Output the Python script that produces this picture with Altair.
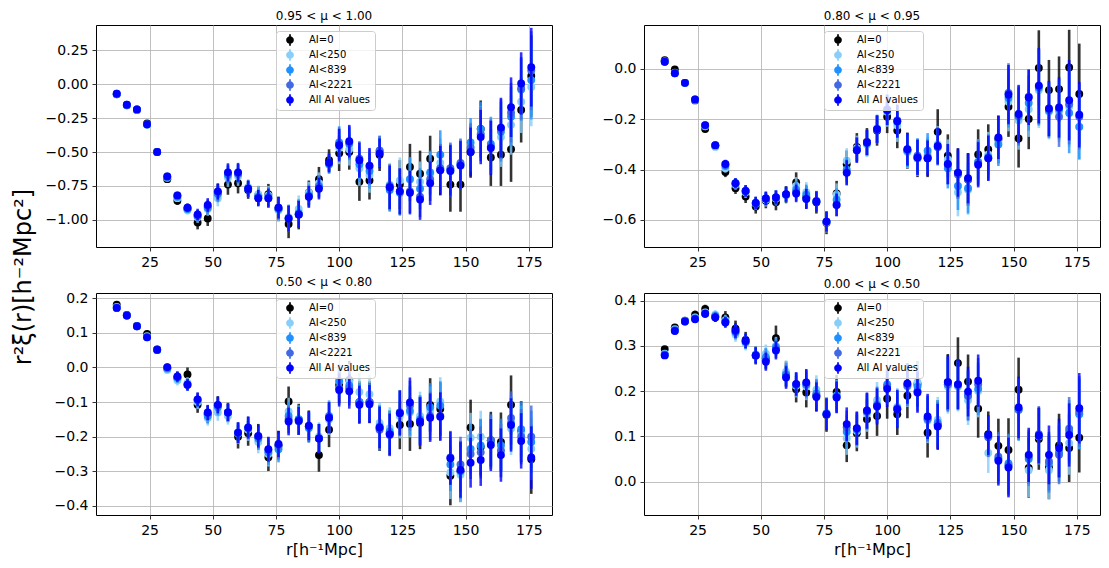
import altair as alt
import pandas as pd

r = [12, 16, 20, 24, 28, 32, 36, 40, 44, 48, 52, 56, 60, 64, 68, 72, 76, 80, 84, 88, 92,
     96, 100, 104, 108, 112, 116, 120, 124, 128, 132, 136, 140, 144, 148, 152, 156, 160, 164, 168, 172, 176]

names = ["AI=0", "AI<250", "AI<839", "AI<2221", "All AI values"]
colors = ["#000000", "#87cefa", "#1e90ff", "#4169e1", "#0000ff"]

# ---------------- panel 1: 0.95 < mu < 1.00 ----------------
p1_ai0 = [-0.075, -0.155, -0.19, -0.29, -0.50, -0.70, -0.86, -0.92, -1.02, -0.99, -0.80, -0.74, -0.73, -0.78, -0.82, -0.81, -0.92, -1.03, -0.96, -0.80, -0.70,
          -0.56, -0.51, -0.50, -0.72, -0.71, -0.52, -0.76, -0.74, -0.61, -0.66, -0.55, -0.63, -0.74, -0.74, -0.50, -0.33, -0.54, -0.52, -0.48, -0.19, 0.06]
p1_ai250 = [-0.075, -0.155, -0.19, -0.30, -0.50, -0.69, -0.84, -0.93, -0.98, -0.92, -0.84, -0.69, -0.68, -0.76, -0.81, -0.82, -0.93, -0.98, -0.92, -0.80, -0.73,
            -0.59, -0.47, -0.48, -0.62, -0.67, -0.50, -0.74, -0.71, -0.70, -0.72, -0.66, -0.58, -0.64, -0.60, -0.46, -0.36, -0.46, -0.39, -0.30, -0.13, -0.02]
p1_ai839 = [-0.072, -0.153, -0.187, -0.297, -0.50, -0.685, -0.83, -0.92, -0.97, -0.91, -0.81, -0.67, -0.66, -0.77, -0.83, -0.83, -0.92, -0.99, -0.95, -0.82, -0.75,
            -0.59, -0.43, -0.44, -0.59, -0.64, -0.49, -0.78, -0.80, -0.70, -0.77, -0.65, -0.52, -0.63, -0.59, -0.43, -0.33, -0.44, -0.35, -0.24, -0.04, 0.03]
p1_ai2221 = [-0.071, -0.152, -0.186, -0.296, -0.50, -0.68, -0.82, -0.91, -0.97, -0.90, -0.80, -0.66, -0.66, -0.77, -0.84, -0.84, -0.91, -0.99, -0.96, -0.83, -0.76,
             -0.58, -0.44, -0.43, -0.55, -0.61, -0.49, -0.75, -0.79, -0.79, -0.83, -0.70, -0.62, -0.62, -0.58, -0.47, -0.37, -0.46, -0.33, -0.21, -0.03, 0.10]
p1_all = [-0.071, -0.152, -0.186, -0.296, -0.50, -0.68, -0.82, -0.91, -0.96, -0.89, -0.79, -0.65, -0.65, -0.77, -0.84, -0.84, -0.91, -0.99, -0.96, -0.83, -0.77,
          -0.58, -0.45, -0.42, -0.56, -0.60, -0.51, -0.76, -0.79, -0.80, -0.85, -0.73, -0.635, -0.64, -0.60, -0.50, -0.39, -0.47, -0.32, -0.17, 0.005, 0.125]
p1_err = [0.01, 0.01, 0.012, 0.015, 0.015, 0.02, 0.025, 0.03, 0.042, 0.05, 0.06, 0.067, 0.07, 0.06, 0.06, 0.07, 0.08, 0.096, 0.10, 0.08, 0.08,
          0.07, 0.12, 0.12, 0.13, 0.13, 0.11, 0.16, 0.17, 0.16, 0.15, 0.16, 0.18, 0.19, 0.18, 0.18, 0.20, 0.20, 0.22, 0.22, 0.23, 0.29]
p1_err0 = [0.012, 0.012, 0.014, 0.017, 0.018, 0.024, 0.03, 0.034, 0.05, 0.055, 0.065, 0.075, 0.075, 0.065, 0.07, 0.075, 0.09, 0.105, 0.11, 0.09, 0.09,
           0.08, 0.13, 0.13, 0.14, 0.14, 0.12, 0.17, 0.18, 0.17, 0.17, 0.17, 0.19, 0.20, 0.20, 0.19, 0.21, 0.21, 0.23, 0.24, 0.24, 0.30]

# ---------------- panel 2: 0.80 < mu < 0.95 ----------------
p2_ai0 = [0.035, -0.002, -0.055, -0.125, -0.239, -0.305, -0.41, -0.474, -0.507, -0.547, -0.524, -0.53, -0.50, -0.451, -0.51, -0.53, -0.612, -0.495, -0.379, -0.31, -0.29,
          -0.245, -0.19, -0.245, -0.325, -0.355, -0.355, -0.25, -0.345, -0.415, -0.44, -0.34, -0.32, -0.28, -0.15, -0.276, -0.199, 0.004, -0.084, -0.08, 0.006, -0.099]
p2_ai250 = [0.03, -0.015, -0.056, -0.123, -0.228, -0.31, -0.395, -0.46, -0.49, -0.535, -0.52, -0.515, -0.50, -0.465, -0.49, -0.525, -0.61, -0.50, -0.365, -0.315, -0.30,
            -0.235, -0.17, -0.225, -0.33, -0.355, -0.34, -0.30, -0.36, -0.49, -0.48, -0.37, -0.34, -0.29, -0.13, -0.205, -0.16, -0.085, -0.17, -0.17, -0.15, -0.23]
p2_ai839 = [0.03, -0.016, -0.055, -0.122, -0.225, -0.305, -0.385, -0.455, -0.485, -0.535, -0.515, -0.51, -0.50, -0.48, -0.50, -0.525, -0.607, -0.52, -0.40, -0.32, -0.295,
            -0.24, -0.165, -0.21, -0.325, -0.345, -0.325, -0.31, -0.395, -0.465, -0.474, -0.37, -0.35, -0.30, -0.115, -0.19, -0.135, -0.075, -0.165, -0.16, -0.175, -0.23]
p2_ai2221 = [0.029, -0.017, -0.055, -0.121, -0.223, -0.303, -0.38, -0.455, -0.485, -0.533, -0.515, -0.511, -0.498, -0.49, -0.515, -0.527, -0.607, -0.54, -0.41, -0.323, -0.292,
             -0.24, -0.16, -0.205, -0.32, -0.35, -0.35, -0.31, -0.38, -0.42, -0.44, -0.375, -0.355, -0.275, -0.095, -0.185, -0.11, -0.07, -0.16, -0.19, -0.14, -0.19]
p2_all = [0.029, -0.017, -0.055, -0.121, -0.223, -0.303, -0.378, -0.454, -0.485, -0.533, -0.515, -0.511, -0.498, -0.495, -0.517, -0.527, -0.607, -0.541, -0.413, -0.323, -0.292,
          -0.239, -0.163, -0.208, -0.319, -0.352, -0.355, -0.306, -0.378, -0.412, -0.434, -0.381, -0.355, -0.272, -0.102, -0.179, -0.113, -0.066, -0.157, -0.153, -0.124, -0.182]
p2_err = [0.005, 0.006, 0.007, 0.008, 0.01, 0.013, 0.017, 0.02, 0.023, 0.025, 0.027, 0.028, 0.03, 0.035, 0.04, 0.04, 0.04, 0.045, 0.05, 0.05, 0.05,
          0.055, 0.06, 0.065, 0.065, 0.07, 0.07, 0.073, 0.08, 0.096, 0.10, 0.09, 0.09, 0.086, 0.118, 0.116, 0.11, 0.15, 0.11, 0.12, 0.16, 0.13]
p2_err0 = [0.006, 0.007, 0.008, 0.009, 0.012, 0.015, 0.02, 0.023, 0.026, 0.028, 0.03, 0.032, 0.034, 0.04, 0.045, 0.045, 0.045, 0.05, 0.055, 0.055, 0.055,
           0.06, 0.065, 0.07, 0.072, 0.075, 0.075, 0.09, 0.085, 0.1, 0.105, 0.1, 0.1, 0.095, 0.12, 0.116, 0.12, 0.15, 0.12, 0.13, 0.15, 0.2]

# ---------------- panel 3: 0.50 < mu < 0.80 ----------------
p3_ai0 = [0.181, 0.152, 0.12, 0.097, 0.052, -0.002, -0.03, -0.02, -0.108, -0.135, -0.11, -0.13, -0.20, -0.19, -0.20, -0.259, -0.225, -0.098, -0.15, -0.17, -0.253,
          -0.18, -0.05, -0.036, -0.10, -0.10, -0.175, -0.19, -0.166, -0.163, -0.16, -0.108, -0.12, -0.313, -0.30, -0.173, -0.23, -0.21, -0.215, -0.108, -0.185, -0.265]
p3_ai250 = [0.175, 0.15, 0.12, 0.09, 0.05, -0.007, -0.037, -0.045, -0.10, -0.146, -0.13, -0.14, -0.19, -0.18, -0.215, -0.25, -0.23, -0.127, -0.15, -0.17, -0.20,
            -0.15, -0.04, -0.04, -0.071, -0.077, -0.16, -0.175, -0.14, -0.13, -0.14, -0.125, -0.098, -0.303, -0.31, -0.203, -0.20, -0.22, -0.24, -0.176, -0.19, -0.235]
p3_ai839 = [0.173, 0.15, 0.119, 0.088, 0.05, -0.003, -0.03, -0.05, -0.095, -0.14, -0.115, -0.13, -0.19, -0.175, -0.205, -0.245, -0.236, -0.14, -0.15, -0.175, -0.205,
            -0.14, -0.039, -0.052, -0.10, -0.10, -0.17, -0.185, -0.13, -0.125, -0.15, -0.115, -0.11, -0.28, -0.30, -0.235, -0.225, -0.211, -0.225, -0.16, -0.178, -0.215]
p3_ai2221 = [0.172, 0.15, 0.119, 0.087, 0.051, 0.0, -0.027, -0.05, -0.093, -0.132, -0.11, -0.13, -0.188, -0.175, -0.2, -0.238, -0.225, -0.15, -0.155, -0.17, -0.205,
             -0.145, -0.06, -0.06, -0.105, -0.10, -0.18, -0.195, -0.13, -0.11, -0.155, -0.14, -0.14, -0.26, -0.28, -0.25, -0.245, -0.211, -0.24, -0.146, -0.2, -0.2]
p3_all = [0.172, 0.150, 0.119, 0.087, 0.051, 0.001, -0.026, -0.050, -0.092, -0.130, -0.108, -0.130, -0.188, -0.173, -0.198, -0.236, -0.221, -0.156, -0.154, -0.168, -0.205,
          -0.145, -0.065, -0.069, -0.108, -0.106, -0.173, -0.193, -0.132, -0.101, -0.156, -0.145, -0.142, -0.262, -0.296, -0.275, -0.267, -0.224, -0.253, -0.166, -0.212, -0.260]
p3_err = [0.005, 0.005, 0.006, 0.007, 0.008, 0.01, 0.015, 0.017, 0.02, 0.022, 0.024, 0.025, 0.03, 0.032, 0.033, 0.036, 0.038, 0.04, 0.04, 0.042, 0.042,
          0.045, 0.048, 0.05, 0.055, 0.055, 0.06, 0.06, 0.065, 0.072, 0.07, 0.07, 0.07, 0.077, 0.08, 0.072, 0.075, 0.075, 0.077, 0.077, 0.08, 0.09]
p3_err0 = [0.006, 0.006, 0.007, 0.008, 0.009, 0.012, 0.017, 0.02, 0.023, 0.025, 0.027, 0.028, 0.034, 0.036, 0.037, 0.04, 0.042, 0.043, 0.045, 0.046, 0.048,
           0.05, 0.053, 0.055, 0.06, 0.06, 0.066, 0.066, 0.07, 0.078, 0.076, 0.077, 0.077, 0.085, 0.088, 0.08, 0.082, 0.082, 0.085, 0.085, 0.088, 0.1]

# ---------------- panel 4: 0.00 < mu < 0.50 ----------------
p4_ai0 = [0.293, 0.341, 0.356, 0.369, 0.382, 0.365, 0.363, 0.338, 0.313, 0.279, 0.272, 0.317, 0.238, 0.204, 0.197, 0.19, 0.148, 0.198, 0.08, 0.107, 0.138,
          0.145, 0.183, 0.149, 0.19, 0.216, 0.108, 0.125, 0.22, 0.262, 0.221, 0.161, 0.105, 0.079, 0.07, 0.203, 0.03, 0.094, 0.031, 0.08, 0.074, 0.097]
p4_ai250 = [0.283, 0.337, 0.356, 0.363, 0.374, 0.369, 0.357, 0.325, 0.306, 0.281, 0.283, 0.30, 0.243, 0.212, 0.21, 0.203, 0.152, 0.19, 0.096, 0.112, 0.15,
            0.18, 0.21, 0.165, 0.21, 0.22, 0.135, 0.137, 0.21, 0.21, 0.18, 0.20, 0.063, 0.05, 0.036, 0.16, 0.025, 0.1, 0.025, 0.063, 0.085, 0.15]
p4_ai839 = [0.281, 0.335, 0.355, 0.361, 0.372, 0.366, 0.354, 0.33, 0.309, 0.28, 0.275, 0.297, 0.237, 0.214, 0.214, 0.195, 0.15, 0.19, 0.11, 0.115, 0.155,
            0.17, 0.215, 0.162, 0.215, 0.21, 0.138, 0.13, 0.215, 0.213, 0.19, 0.205, 0.1, 0.05, 0.04, 0.158, 0.05, 0.1, 0.04, 0.065, 0.11, 0.149]
p4_ai2221 = [0.28, 0.334, 0.354, 0.36, 0.371, 0.364, 0.353, 0.332, 0.31, 0.279, 0.268, 0.293, 0.233, 0.215, 0.217, 0.19, 0.149, 0.187, 0.12, 0.117, 0.155,
             0.168, 0.21, 0.16, 0.212, 0.2, 0.14, 0.125, 0.215, 0.215, 0.19, 0.215, 0.098, 0.055, 0.035, 0.16, 0.055, 0.105, 0.045, 0.059, 0.117, 0.155]
p4_all = [0.279, 0.333, 0.354, 0.359, 0.371, 0.363, 0.352, 0.334, 0.311, 0.279, 0.265, 0.290, 0.230, 0.216, 0.219, 0.187, 0.149, 0.186, 0.127, 0.118, 0.157,
          0.166, 0.205, 0.160, 0.217, 0.197, 0.144, 0.122, 0.220, 0.215, 0.199, 0.223, 0.103, 0.046, 0.031, 0.164, 0.059, 0.102, 0.059, 0.074, 0.103, 0.162]
p4_err = [0.005, 0.006, 0.007, 0.008, 0.008, 0.01, 0.012, 0.016, 0.016, 0.018, 0.02, 0.02, 0.025, 0.026, 0.03, 0.032, 0.035, 0.035, 0.037, 0.037, 0.04,
          0.04, 0.04, 0.042, 0.045, 0.045, 0.05, 0.05, 0.06, 0.055, 0.055, 0.058, 0.044, 0.055, 0.066, 0.068, 0.06, 0.062, 0.065, 0.065, 0.07, 0.078]
p4_err0 = [0.006, 0.007, 0.008, 0.009, 0.009, 0.012, 0.014, 0.018, 0.018, 0.02, 0.022, 0.028, 0.028, 0.029, 0.033, 0.035, 0.038, 0.038, 0.037, 0.04, 0.044,
           0.044, 0.044, 0.046, 0.05, 0.05, 0.055, 0.055, 0.062, 0.057, 0.06, 0.064, 0.05, 0.06, 0.07, 0.071, 0.066, 0.068, 0.07, 0.07, 0.075, 0.077]

titles = ["0.95 < \u03bc < 1.00", "0.80 < \u03bc < 0.95", "0.50 < \u03bc < 0.80", "0.00 < \u03bc < 0.50"]
x_ticks = [25, 50, 75, 100, 125, 150, 175]
y_label = "r\u00b2\u03be(r)[h\u207b\u00b2Mpc\u00b2]"

SYMBOL = "M-1,0A1,1 0 1,1 1,0A1,1 0 1,1 -1,0Z M-0.22,-1.5L0.22,-1.5L0.22,1.5L-0.22,1.5Z"


def panel(title, series, err_all, err_0, ydom, yticks, yfmt, bottom, with_ylabel=False):
    xscale = alt.Scale(domain=[3.8, 184.2], nice=False, zero=False)
    yscale = alt.Scale(domain=ydom, nice=False, zero=False)
    xaxis = alt.Axis(values=x_ticks, format="d", title="r[h\u207b\u00b9Mpc]" if bottom else None,
                     titleFontSize=16, titleFontWeight="normal", titlePadding=4)
    yaxis = alt.Axis(values=yticks, format=yfmt, title=None)
    cscale = alt.Scale(domain=names, range=colors)
    legend = alt.Legend(title=None, orient="none", legendX=180, legendY=6)
    layers = []
    for i, name in enumerate(names):
        vals = series[i]
        errs = err_0 if i == 0 else err_all
        df = pd.DataFrame({
            "r": r,
            "v": vals,
            "lo": [v - e for v, e in zip(vals, errs)],
            "hi": [v + e for v, e in zip(vals, errs)],
            "series": name,
        })
        base = alt.Chart(df)
        rule = base.mark_rule(color=colors[i], strokeWidth=2.6, opacity=0.8).encode(
            x=alt.X("r:Q", scale=xscale, axis=xaxis),
            y=alt.Y("lo:Q", scale=yscale, axis=yaxis),
            y2="hi:Q",
        )
        pts = base.mark_point(filled=True, size=62, opacity=1, strokeWidth=0).encode(
            x=alt.X("r:Q", scale=xscale, axis=xaxis),
            y=alt.Y("v:Q", scale=yscale, axis=yaxis),
            color=alt.Color("series:N", scale=cscale, legend=legend),
        )
        layers += [rule, pts]
    if with_ylabel:
        lab = alt.Chart(pd.DataFrame({"t": [y_label]})).mark_text(
            angle=270, fontSize=24, align="center", baseline="middle", color="black"
        ).encode(text="t:N", x=alt.value(-72), y=alt.value(252))
        layers.append(lab)
    return alt.layer(*layers).properties(
        width=456, height=222,
        title=alt.TitleParams(text=title, fontSize=12, fontWeight="normal", offset=2, anchor="middle"),
    )


tl = panel(titles[0], [p1_ai0, p1_ai250, p1_ai839, p1_ai2221, p1_all], p1_err, p1_err0,
           [-1.20, 0.436], [0.25, 0.0, -0.25, -0.5, -0.75, -1.0], ".2f", False, with_ylabel=True)
tr = panel(titles[1], [p2_ai0, p2_ai250, p2_ai839, p2_ai2221, p2_all], p2_err, p2_err0,
           [-0.708, 0.175], [0.0, -0.2, -0.4, -0.6], ".1f", False)
bl = panel(titles[2], [p3_ai0, p3_ai250, p3_ai839, p3_ai2221, p3_all], p3_err, p3_err0,
           [-0.426, 0.215], [0.2, 0.1, 0.0, -0.1, -0.2, -0.3, -0.4], ".1f", True)
br = panel(titles[3], [p4_ai0, p4_ai250, p4_ai839, p4_ai2221, p4_all], p4_err, p4_err0,
           [-0.074, 0.417], [0.0, 0.1, 0.2, 0.3, 0.4], ".1f", True)

chart = alt.concat(
    tl, tr, bl, br, columns=2, bounds="flush", spacing={"row": 46, "column": 92}
).resolve_scale(color="independent").properties(
    padding={"left": 3, "top": 1, "right": 0, "bottom": 0}
).configure(
    font="DejaVu Sans"
).configure_view(
    stroke="black", strokeWidth=1
).configure_axis(
    grid=True, gridColor="#b0b0b0", gridWidth=0.8, domain=False,
    tickColor="black", tickSize=4, tickWidth=0.8, labelFontSize=14, labelColor="black",
    labelPadding=4, titleColor="black",
).configure_legend(
    fillColor="rgba(255,255,255,0.8)", strokeColor="#cccccc", cornerRadius=3, padding=4,
    labelFontSize=10, labelColor="black", labelOffset=14, rowPadding=3,
    symbolType=SYMBOL, symbolSize=60, symbolStrokeWidth=0, symbolOffset=5,
)

chart.save("out.html", embed_options={"renderer": "svg", "actions": False})
